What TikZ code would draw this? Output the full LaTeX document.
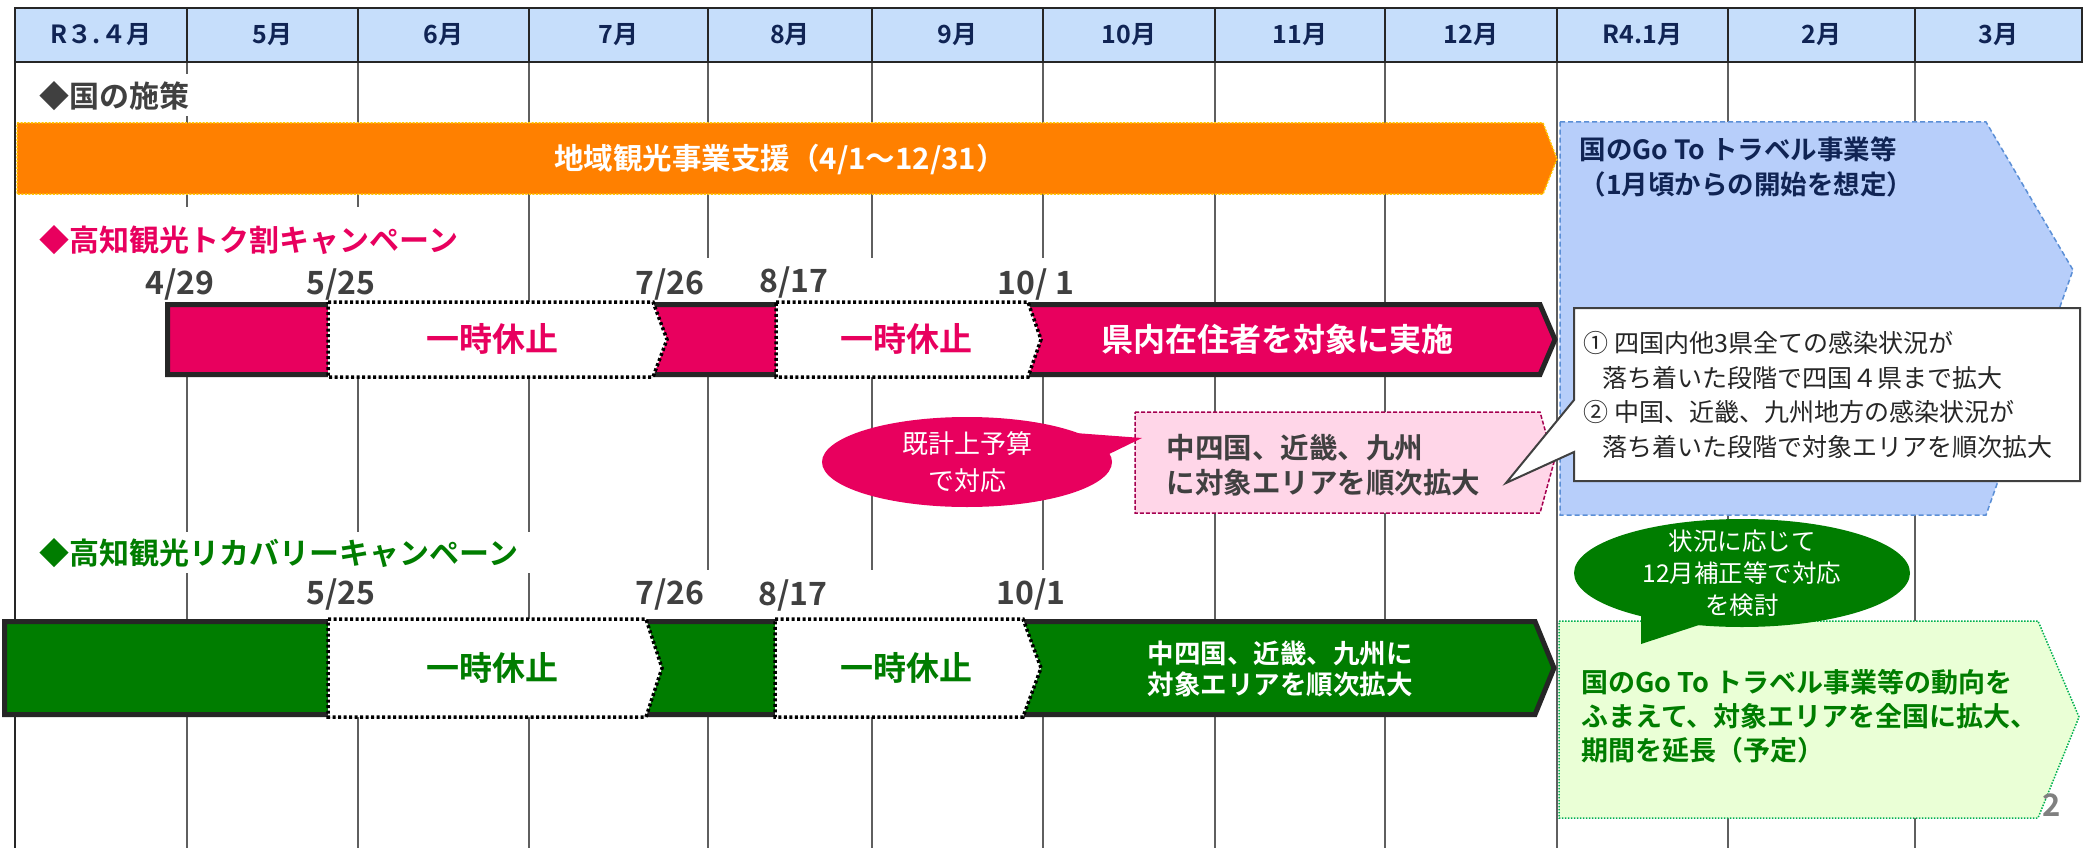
\documentclass[tikz,border=0pt]{standalone}
\usepackage{fontspec}
\setmainfont{Noto Sans CJK JP}[BoldFont={Noto Sans CJK JP Bold}]
\usetikzlibrary{shapes.geometric}
\newcommand{\fsz}[2]{\fontsize{#1}{#2}\selectfont}
\definecolor{hdrfill}{RGB}{198,222,251}
\definecolor{navy}{RGB}{16,36,84}
\definecolor{gridc}{RGB}{95,95,95}
\definecolor{dgray}{RGB}{64,64,64}
\definecolor{orng}{RGB}{255,128,0}
\definecolor{yel}{RGB}{255,200,0}
\definecolor{bluef}{RGB}{183,206,250}
\definecolor{blueb}{RGB}{91,143,214}
\definecolor{mag}{RGB}{232,0,94}
\definecolor{pinkf}{RGB}{255,214,232}
\definecolor{pinkb}{RGB}{165,0,80}
\definecolor{grn}{RGB}{0,125,0}
\definecolor{lgrnf}{RGB}{234,255,214}
\definecolor{lgrnb}{RGB}{0,176,80}
\definecolor{barb}{RGB}{38,38,38}
\definecolor{pgray}{RGB}{128,128,128}
\begin{document}
\begin{tikzpicture}[x=1pt,y=-1pt,
  hdr/.style={text=navy, font=\bfseries\fsz{25}{30}},
  ttl/.style={anchor=west, font=\bfseries\fsz{30}{36}},
  dte/.style={text=dgray, font=\bfseries\fsz{32}{38}},
  gridline/.style={draw=gridc, line width=1.2pt},
  bgbox/.style={fill=white},
  barshape/.style={draw=barb, line width=5pt, line join=miter},
  pausebox/.style={fill=white, draw=black, line width=3.5pt, dash pattern=on 3pt off 2.5pt},
  pausetxt/.style={font=\bfseries\fsz{33}{38}},
  bartxt/.style={text=white, font=\bfseries\fsz{32}{38}, align=center},
  bubble/.style={ellipse, inner sep=0pt},
  bubtxt/.style={text=white, align=center}
]
\useasboundingbox (0,0) rectangle (2085,848);
\fill[white] (0,0) rectangle (2085,848);

% ---- grid ----
\foreach \x in {187,358,529,708,872,1043,1215,1385,1557,1728,1915}
  \draw[gridline] (\x,62) -- (\x,848);
\draw[draw=barb, line width=1.5pt] (15,8) -- (15,848);
\draw[fill=hdrfill, draw=barb, line width=1.5pt] (15,8) rectangle (2082,62);
\foreach \x in {187,358,529,708,872,1043,1215,1385,1557,1728,1915}
  \draw[draw=barb, line width=1.2pt] (\x,8) -- (\x,62);
\foreach \a/\b/\t [count=\i] in {15/187/R３.４月,187/358/5月,358/529/6月,529/708/7月,708/872/8月,872/1043/9月,1043/1215/10月,1215/1385/11月,1385/1557/12月,1557/1728/R4.1月,1728/1915/2月,1915/2082/3月}
  \node[hdr] (h\i) at ({(\a+\b)/2},35) {\t};

% ---- label backgrounds ----
\fill[bgbox] (32,74) rectangle (205,116);
\fill[bgbox] (30,207) rectangle (462,260);
\fill[bgbox] (130,258) rectangle (400,302);
\fill[bgbox] (612,258) rectangle (1100,302);
\fill[bgbox] (30,532) rectangle (545,573);
\fill[bgbox] (300,570) rectangle (385,619);
\fill[bgbox] (620,570) rectangle (1090,619);

% ---- national policy ----
\node[ttl, text=dgray] (kuni) at (36,96) {◆国の施策};
\draw[fill=orng, draw=yel, line width=1.5pt, dash pattern=on 2pt off 1.5pt]
  (17,123) -- (1543,123) -- (1557,159) -- (1543,194) -- (17,194) -- cycle;
\node[text=white, font=\bfseries\fsz{29.5}{34}] (chiiki) at (780,159) {地域観光事業支援（4/1～12/31）};
\draw[fill=bluef, draw=blueb, line width=1.5pt, dash pattern=on 5pt off 3pt]
  (1560,122) -- (1986,122) -- (2073,270) -- (1986,515) -- (1560,515) -- cycle;
\node[anchor=west, align=left, text=navy, font=\bfseries\fsz{26.5}{35}] (goto) at (1576,167) {国のGo To トラベル事業等\\（1月頃からの開始を想定）};

% ---- Tokuwari campaign ----
\node[ttl, text=mag] (tokuT) at (36,240) {◆高知観光トク割キャンペーン};
\node[dte] (d1) at (180,284) {4/29};
\node[dte] (d2) at (341,284) {5/25};
\node[dte] (d3) at (670,284) {7/26};
\node[dte] (d4) at (794,282) {8/17};
\node[dte] (d5) at (1036,284) {10/ 1};
\draw[barshape, fill=mag]
  (167.5,304.5) -- (1540,304.5) -- (1555,339.5) -- (1540,374.5) -- (167.5,374.5) -- cycle;
\draw[pausebox] (328,302) -- (653,302) -- (667,339.5) -- (653,377) -- (328,377) -- cycle;
\draw[pausebox] (776,302) -- (1028,302) -- (1041,339.5) -- (1028,377) -- (776,377) -- cycle;
\node[pausetxt, text=mag] (p1) at (492,339) {一時休止};
\node[pausetxt, text=mag] (p2) at (906,339) {一時休止};
\node[bartxt] (kennai) at (1277,339) {県内在住者を対象に実施};

% pink box
\draw[fill=pinkf, draw=pinkb, line width=1.5pt, dash pattern=on 4pt off 2pt]
  (1135,412) -- (1540,412) -- (1554,462) -- (1540,513) -- (1135,513) -- cycle;
\node[anchor=west, align=left, text=dgray, font=\bfseries\fsz{28.5}{35}] (pinkT) at (1163,465) {中四国、近畿、九州\\に対象エリアを順次拡大};
% pink bubble
\node[bubble, fill=mag, minimum width=290pt, minimum height=90pt] (yosanE) at (967,462) {};
\fill[mag] (1075,433) -- (1142,438) -- (1105,456) -- cycle;
\node[bubtxt, font=\fsz{26}{37}] (yosan) at (yosanE) {既計上予算\\で対応};

% callout
\draw[fill=white, draw=dgray, line width=2pt]
  (1574,308) -- (2080,308) -- (2080,481) -- (1574,481) -- (1574,452) -- (1506,483) -- (1574,400) -- cycle;
\node[anchor=west, align=left, text=barb, font=\fsz{25}{34.7}] (cond) at (1580,395)
  {① 四国内他3県全ての感染状況が\\\hspace*{19pt}落ち着いた段階で四国４県まで拡大\\② 中国、近畿、九州地方の感染状況が\\\hspace*{19pt}落ち着いた段階で対象エリアを順次拡大};

% ---- Recovery campaign ----
\node[ttl, text=grn] (recT) at (36,553) {◆高知観光リカバリーキャンペーン};
\node[dte] (g2) at (341,594) {5/25};
\node[dte] (g3) at (670,594) {7/26};
\node[dte] (g4) at (793,595) {8/17};
\node[dte] (g5) at (1031,594) {10/1};
\draw[barshape, fill=grn]
  (4.5,621.5) -- (1535,621.5) -- (1554,668) -- (1535,714.5) -- (4.5,714.5) -- cycle;
\draw[pausebox] (328,619) -- (646,619) -- (662,668) -- (646,717) -- (328,717) -- cycle;
\draw[pausebox] (775,619) -- (1023,619) -- (1041,668) -- (1023,717) -- (775,717) -- cycle;
\node[pausetxt, text=grn] (p3) at (492,668) {一時休止};
\node[pausetxt, text=grn] (p4) at (906,668) {一時休止};
\node[bartxt, font=\bfseries\fsz{26.5}{31}] (chushi) at (1280,669) {中四国、近畿、九州に\\対象エリアを順次拡大};

% light green box
\draw[fill=lgrnf, draw=lgrnb, line width=1.5pt, dash pattern=on 1.5pt off 1.5pt]
  (1559,621) -- (2038,621) -- (2079,717) -- (2038,818) -- (1559,818) -- cycle;
\node[anchor=west, align=left, text=grn, font=\bfseries\fsz{27}{34}] (gotoG) at (1578,716)
  {国のGo To トラベル事業等の動向を\\ふまえて、対象エリアを全国に拡大、\\期間を延長（予定）};
% green bubble
\node[bubble, fill=grn, minimum width=336pt, minimum height=108pt] (hoseiE) at (1742,573) {};
\fill[grn] (1641,615) -- (1641,644) -- (1702,624) -- cycle;
\node[bubtxt, font=\fsz{24.5}{32}] (hosei) at (hoseiE) {状況に応じて\\12月補正等で対応\\を検討};

\node[text=pgray, font=\bfseries\fsz{31}{36}] (pg) at (2052,805) {2};
\end{tikzpicture}
\end{document}
